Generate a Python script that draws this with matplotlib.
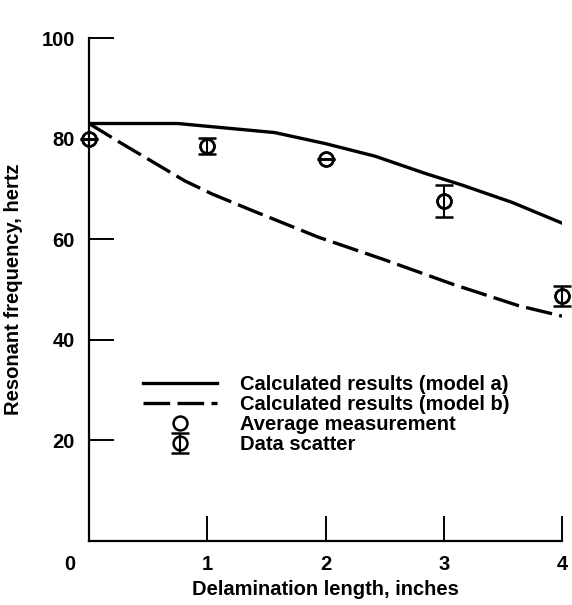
import matplotlib.pyplot as plt
from matplotlib.transforms import ScaledTranslation

plt.rcParams['font.family'] = ['Liberation Sans', 'DejaVu Sans']
plt.rcParams['font.weight'] = 'bold'

# Calculated curves
modelA_x = [0.0, 0.75, 1.57, 2.0, 2.42, 2.84, 3.15, 3.58, 4.0]
modelA_y = [83.0, 83.0, 81.2, 79.0, 76.5, 73.1, 70.8, 67.3, 63.2]

modelB_x = [0.0, 0.25, 0.53, 0.81, 1.04, 1.38, 1.94, 2.5, 3.07, 3.63, 4.0]
modelB_y = [83.0, 79.4, 75.5, 71.6, 69.0, 65.7, 60.4, 55.9, 51.1, 46.8, 44.7]

# Measurements
measX = [0, 1, 2, 3, 4]
measY = [80.0, 78.6, 75.9, 67.6, 48.7]
measErr = [0.0, 1.6, 0.0, 3.2, 2.0]

xTicks = [0, 1, 2, 3, 4]
yTicks = [20, 40, 60, 80, 100]

fs = 14.5

fig = plt.figure(figsize=(5.72, 6.05), dpi=100)
ax = fig.add_axes([89 / 572, 64 / 605, 473 / 572, 503 / 605])

ax.plot(modelA_x, modelA_y, '-', color='black', linewidth=2.4, label='Calculated results (model a)')
ax.plot(modelB_x, modelB_y, '--', color='black', linewidth=2.4, dashes=(8, 2.2),
        label='Calculated results (model b)')
ax.plot(measX, measY, 'o', color='black', markerfacecolor='none', markersize=10,
        markeredgewidth=1.8, label='Average measurement', clip_on=False)
ax.errorbar(measX, measY, yerr=measErr, fmt='o', color='black', markerfacecolor='none',
            markersize=10, markeredgewidth=1.8, elinewidth=1.5, capsize=6.5, capthick=1.5,
            label='Data scatter', clip_on=False)

ax.set_xlim(0, 4)
ax.set_ylim(0, 100)

# Spines
ax.spines['top'].set_visible(False)
ax.spines['right'].set_visible(False)
ax.spines['left'].set_linewidth(1.6)
ax.spines['bottom'].set_linewidth(1.6)

# Ticks
ax.set_xticks(xTicks)
ax.set_yticks(yTicks)
ax.tick_params(direction='in', length=18, width=1.4, labelsize=fs)
ax.tick_params(axis='x', pad=10)
ax.tick_params(axis='y', pad=10)
ax.xaxis.get_major_ticks()[0].tick1line.set_visible(False)
ax.yaxis.get_major_ticks()[3].tick1line.set_visible(False)
for lbl in ax.get_xticklabels() + ax.get_yticklabels():
    lbl.set_fontweight('bold')
zeroLbl = ax.get_xticklabels()[0]
zeroLbl.set_transform(zeroLbl.get_transform() + ScaledTranslation(-0.19, 0, fig.dpi_scale_trans))

ax.set_xlabel('Delamination length, inches', fontsize=fs, fontweight='bold')
ax.set_ylabel('Resonant frequency, hertz', fontsize=fs, fontweight='bold')
ax.xaxis.set_label_coords(0.5, -0.077)
ax.yaxis.set_label_coords(-0.14, 0.5)

ax.legend(loc='upper left', bbox_to_anchor=(0.114, 0.33), frameon=False,
          handlelength=3.7, handletextpad=1.1, labelspacing=0.05,
          borderpad=0, borderaxespad=0, numpoints=1,
          prop={'weight': 'bold', 'size': fs})

fig.savefig('out.png', dpi=100)
